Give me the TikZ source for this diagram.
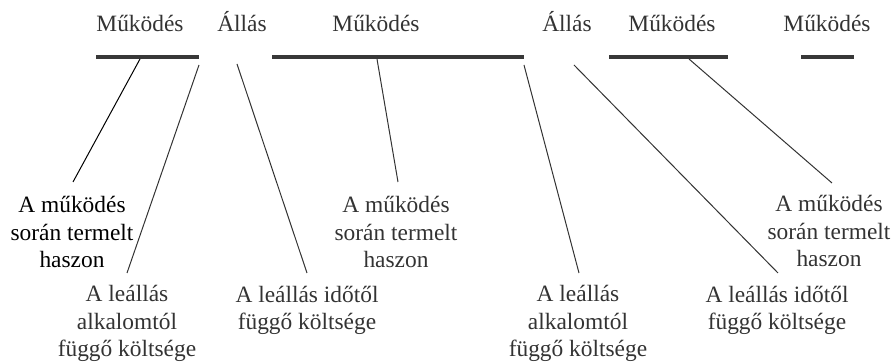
\documentclass[tikz,border=0pt]{standalone}
\usepackage{fontspec}
\setmainfont{Liberation Serif}
\definecolor{ink}{gray}{0.2}
\definecolor{barc}{gray}{0.22}
\begin{document}
\begin{tikzpicture}[x=0.5pt,y=-0.5pt,
  lbl/.style={font=\fontsize{11.7}{13.75}\selectfont, text=ink, inner sep=0pt, align=center, anchor=base},
  bar/.style={line width=2pt, draw=barc},
  conn/.style={line width=0.5pt, draw=ink}]
\useasboundingbox (0,0) rectangle (896,362);
% top labels
\node[lbl] (t1) at (140,32) {Működés};
\node[lbl] (t2) at (242,32) {Állás};
\node[lbl] (t3) at (376,32) {Működés};
\node[lbl] (t4) at (567,32) {Állás};
\node[lbl] (t5) at (672,32) {Működés};
\node[lbl] (t6) at (827,32) {Működés};
% bars
\draw[bar] (96,57) -- (199,57);
\draw[bar] (272,57) -- (524,57);
\draw[bar] (609,57) -- (728,57);
\draw[bar] (801,57) -- (854,57);
% connector start points
\coordinate (s1) at (140,59);
\coordinate (s2) at (199,65);
\coordinate (s3) at (237,64);
\coordinate (s4) at (377,59);
\coordinate (s5) at (524,65);
\coordinate (s6) at (574,65);
\coordinate (s7) at (689,59);
% connector end points
\coordinate (e1) at (73,182);
\coordinate (e2) at (127,273);
\coordinate (e3) at (307,273);
\coordinate (e4) at (398,182);
\coordinate (e5) at (579,273);
\coordinate (e6) at (778,273);
\coordinate (e7) at (832,183);
% bottom labels (anchor = baseline of last line)
\node[lbl, text=black] (l1) at (72,268) {A működés\\során termelt\\haszon};
\node[lbl] (l2) at (127,357) {A leállás\\alkalomtól\\függő költsége};
\node[lbl] (l3) at (307,330) {A leállás időtől\\függő költsége};
\node[lbl] (l4) at (396,268) {A működés\\során termelt\\haszon};
\node[lbl] (l5) at (578,357) {A leállás\\alkalomtól\\függő költsége};
\node[lbl] (l6) at (777,330) {A leállás időtől\\függő költsége};
\node[lbl] (l7) at (829,267) {A működés\\során termelt\\haszon};
% connectors
\draw[conn, draw=black] (s1) -- (e1);
\draw[conn] (s2) -- (e2);
\draw[conn] (s3) -- (e3);
\draw[conn] (s4) -- (e4);
\draw[conn] (s5) -- (e5);
\draw[conn] (s6) -- (e6);
\draw[conn] (s7) -- (e7);
\end{tikzpicture}
\end{document}
